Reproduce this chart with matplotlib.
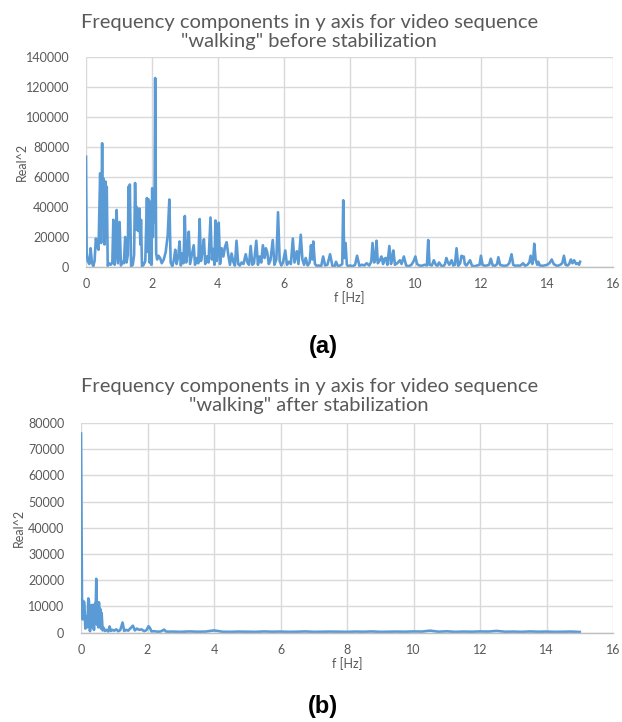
import numpy as np
import matplotlib
matplotlib.use("Agg")
import matplotlib.pyplot as plt

# --- (a) before stabilization: frequency [Hz] and Real^2 ---
freq_a = [0.00, 0.02, 0.05, 0.10, 0.14, 0.18, 0.22, 0.26, 0.30, 0.34, 0.38, 0.43, 0.46, 0.49, 0.51, 0.53, 0.56, 0.59, 0.61, 0.63, 0.66,
          0.70, 0.75, 0.80, 0.83, 0.87, 0.90, 0.93, 0.97, 1.02, 1.06, 1.10, 1.15, 1.19, 1.23, 1.27, 1.29, 1.31, 1.33,
          1.37, 1.42, 1.46, 1.49, 1.52, 1.54, 1.58, 1.62, 1.65, 1.67, 1.70, 1.75, 1.80, 1.85, 1.88, 1.90, 1.93, 1.95, 1.98, 2.01, 2.03, 2.05,
          2.08, 2.10, 2.13, 2.16, 2.20, 2.25, 2.30, 2.36, 2.42, 2.48, 2.53, 2.57, 2.62, 2.67, 2.71, 2.75, 2.80, 2.84, 2.88, 2.92, 2.96, 3.00,
          3.04, 3.08, 3.12, 3.16, 3.22, 3.27, 3.31, 3.36, 3.41, 3.45, 3.49, 3.54, 3.58, 3.62, 3.67, 3.72, 3.78, 3.82, 3.86, 3.90, 3.93, 3.97, 4.00, 4.03,
          4.07, 4.12, 4.17, 4.22, 4.27, 4.32, 4.37, 4.42, 4.47, 4.52, 4.57, 4.62, 4.67, 4.72, 4.78, 4.85, 4.90, 4.95, 5.00, 5.05,
          5.10, 5.17, 5.22, 5.27, 5.32, 5.37, 5.42, 5.46, 5.50, 5.55, 5.60, 5.67, 5.72, 5.78, 5.83, 5.88, 5.93, 5.98, 6.05,
          6.10, 6.16, 6.22, 6.28, 6.33, 6.40, 6.45, 6.52, 6.57, 6.62, 6.67, 6.73, 6.79, 6.83, 6.87, 6.90, 6.95, 7.00,
          7.07, 7.14, 7.20, 7.26, 7.33, 7.41, 7.48, 7.55, 7.59, 7.65, 7.72, 7.78, 7.81, 7.84, 7.88, 7.92, 7.96, 8.02,
          8.10, 8.17, 8.23, 8.30, 8.38, 8.45, 8.52, 8.60, 8.66, 8.70, 8.75, 8.79, 8.82, 8.86, 8.92, 8.97, 9.02,
          9.06, 9.10, 9.15, 9.21, 9.26, 9.30, 9.33, 9.38, 9.45, 9.53, 9.58, 9.65, 9.72, 9.80, 9.88, 9.95, 10.00,
          10.05, 10.12, 10.20, 10.28, 10.35, 10.39, 10.43, 10.50, 10.56, 10.62, 10.67, 10.72, 10.78, 10.85, 10.90, 10.94, 10.98, 11.03,
          11.10, 11.15, 11.20, 11.25, 11.30, 11.36, 11.40, 11.43, 11.47, 11.50, 11.55, 11.60, 11.66, 11.72, 11.80, 11.88, 11.95, 11.99, 12.04,
          12.10, 12.17, 12.24, 12.29, 12.35, 12.42, 12.48, 12.52, 12.57, 12.63, 12.70, 12.78, 12.85, 12.92, 12.97, 13.03,
          13.10, 13.17, 13.22, 13.27, 13.33, 13.40, 13.46, 13.50, 13.55, 13.58, 13.61, 13.65, 13.70, 13.73, 13.78, 13.85, 13.92, 14.00, 14.07,
          14.14, 14.20, 14.27, 14.33, 14.40, 14.46, 14.51, 14.56, 14.62, 14.67, 14.72, 14.77, 14.82, 14.88, 14.93, 14.97, 15.00]
power_a = [73500, 9000, 4000, 2000, 12500, 3000, 500, 4000, 19000, 14000, 11500, 62500, 16000, 82500, 30000, 59000, 15000, 57000, 20000, 53500, 800,
           2500, 1500, 3000, 31500, 1500, 9000, 38000, 2500, 30000, 1000, 3500, 2500, 20000, 3000, 8000, 53500, 20000, 55000,
           500, 1500, 8000, 56000, 25000, 40000, 24000, 39000, 15000, 31500, 500, 1500, 4000, 46000, 10000, 45000, 3000, 43500, 1500, 52500, 20000, 51500,
           30000, 126000, 9000, 5000, 7500, 6000, 2500, 5000, 10000, 21000, 45000, 3000, 500, 5000, 11500, 2000, 7000, 17000, 1000, 9000, 2500, 34000,
           3000, 10000, 23500, 2000, 9000, 14500, 1500, 6000, 2500, 32000, 4000, 11000, 18500, 2000, 7000, 3000, 33000, 5000, 12000, 1500, 31000, 4000, 12000, 29500,
           2000, 12500, 7000, 13500, 16500, 8000, 1500, 9000, 3500, 1000, 17500, 2000, 1000, 3000, 2000, 8500, 3000, 1500, 14000, 1500,
           2500, 17500, 1500, 7000, 3000, 14500, 6000, 12500, 10000, 2000, 4500, 18000, 1500, 5000, 36500, 4000, 1000, 3000, 11000,
           1500, 3500, 2000, 19000, 3000, 10500, 2000, 21500, 5000, 1500, 6000, 1000, 3000, 14500, 5000, 17000, 2000, 800,
           1000, 500, 7000, 1000, 1500, 8500, 800, 500, 3500, 600, 1000, 2000, 44500, 6000, 16000, 1500, 500, 1000,
           500, 1500, 7500, 800, 1500, 1000, 2500, 1000, 3500, 16000, 3000, 5000, 17500, 2500, 4500, 7000, 2000,
           5500, 6000, 1500, 14000, 2000, 6000, 11000, 1500, 2500, 4500, 2000, 7000, 1000, 500, 1500, 4000, 7000,
           2000, 1000, 800, 1500, 1000, 18000, 1500, 1000, 4500, 1500, 800, 3000, 1000, 500, 2000, 6000, 3500, 1500,
           4500, 1000, 1500, 12500, 800, 2500, 7500, 6500, 7000, 2000, 1000, 2500, 4500, 800, 500, 1000, 1500, 7500, 1500,
           800, 1000, 1500, 5500, 1000, 800, 2000, 6500, 1500, 1000, 800, 1000, 2500, 8500, 1500, 800,
           1000, 800, 1500, 2500, 800, 1500, 3000, 7500, 2000, 6000, 15500, 5000, 1500, 3500, 1000, 800, 1000, 1500, 2500,
           5000, 2000, 1000, 800, 1500, 2500, 7500, 1500, 1000, 2000, 5000, 2500, 4500, 2000, 2500, 1500, 3500]

# --- (b) after stabilization ---
freq_b = [0.00, 0.03, 0.05, 0.07, 0.10, 0.13, 0.16, 0.19, 0.22, 0.24, 0.27, 0.29, 0.32, 0.34, 0.36, 0.39, 0.42, 0.44, 0.46, 0.48,
          0.50, 0.52, 0.54, 0.56, 0.58, 0.60, 0.62, 0.65, 0.68, 0.72, 0.77, 0.82, 0.86, 0.90, 0.95, 1.00, 1.06, 1.12, 1.18, 1.25,
          1.30, 1.36, 1.42, 1.48, 1.56, 1.62, 1.68, 1.75, 1.82, 1.90, 1.97, 2.03, 2.07, 2.12, 2.20, 2.30, 2.40, 2.50, 2.55, 2.62,
          2.75, 3.00, 3.25, 3.50, 3.75, 4.00, 4.25, 4.50, 4.75, 5.00, 5.25, 5.50, 5.75, 6.00, 6.25, 6.50, 6.75, 7.00, 7.25, 7.50,
          7.75, 8.00, 8.25, 8.50, 8.75, 9.00, 9.25, 9.50, 9.75, 10.00, 10.25, 10.50, 10.75, 11.00, 11.25, 11.50, 11.75, 12.00, 12.25, 12.50,
          12.75, 13.00, 13.25, 13.50, 13.75, 14.00, 14.25, 14.50, 14.75, 15.00]
power_b = [76000, 11500, 5000, 12000, 11500, 1500, 6000, 2000, 13000, 12000, 500, 6000, 10500, 2000, 10500, 1000, 11000, 8000, 20500, 3000,
           11500, 2000, 11500, 4000, 9000, 1500, 7500, 800, 1800, 600, 1000, 400, 2300, 600, 1000, 700, 1200, 500, 900, 3800,
           600, 1000, 700, 1500, 2600, 800, 1500, 1000, 1200, 500, 900, 2400, 1800, 400, 500, 300, 400, 1100, 400, 300,
           350, 250, 400, 300, 350, 800, 300, 250, 350, 300, 250, 400, 300, 350, 250, 300, 400, 250, 300, 350,
           300, 250, 350, 300, 400, 250, 300, 350, 300, 400, 350, 700, 300, 450, 250, 350, 300, 400, 350, 600,
           300, 350, 250, 400, 300, 350, 250, 300, 350, 200]

blue = '#5b9bd5'
grey_txt = '#595959'
grid_c = '#d9d9d9'

plt.rcParams['font.family'] = ['Lato', 'DejaVu Sans']

fig = plt.figure(figsize=(6.22, 7.22), dpi=100)
ax_a = fig.add_axes([86/622, 1-267/722, (613-86)/622, (267-57)/722])
ax_b = fig.add_axes([81/622, 1-632.5/722, (613-81)/622, (632.5-423)/722])


def style(ax, ymax, ystep):
    ax.set_xlim(0, 16)
    ax.set_ylim(0, ymax)
    ax.set_xticks(np.arange(0, 17, 2))
    ax.set_yticks(np.arange(0, ymax + 1, ystep))
    ax.grid(True, color=grid_c, linewidth=1.0)
    ax.set_axisbelow(True)
    for s in ['top', 'right', 'left']:
        ax.spines[s].set_visible(False)
    ax.spines['bottom'].set_color('#bfbfbf')
    ax.spines['bottom'].set_linewidth(1.0)
    ax.tick_params(length=0, labelsize=9, colors=grey_txt, pad=12)
    ax.tick_params(axis='x', pad=8)
    ax.set_xlabel("f [Hz]", fontsize=9, color=grey_txt, labelpad=1)
    ax.set_ylabel("Real^2", fontsize=9, color=grey_txt)


ax_a.plot(freq_a, power_a, color=blue, linewidth=1.9, solid_joinstyle='round')
style(ax_a, 140000, 20000)
ax_a.yaxis.set_label_coords(-0.11, 0.5)

ax_b.plot(freq_b, power_b, color=blue, linewidth=1.9, solid_joinstyle='round')
style(ax_b, 80000, 10000)
ax_b.yaxis.set_label_coords(-0.105, 0.5)

fig.text(0.497, 1-32/722, 'Frequency components in y axis for video sequence\n"walking" before stabilization',
         ha='center', va='center', fontsize=14.5, color=grey_txt, linespacing=1.2)
fig.text(0.497, 1-396/722, 'Frequency components in y axis for video sequence\n"walking" after stabilization',
         ha='center', va='center', fontsize=14.5, color=grey_txt, linespacing=1.2)

fig.text(323/622, 1-346/722, '(a)', ha='center', va='center', fontsize=17,
         fontweight='bold', family='Liberation Sans', color='black')
fig.text(323/622, 1-707/722, '(b)', ha='center', va='center', fontsize=17,
         fontweight='bold', family='Liberation Sans', color='black')

fig.savefig('out.png', dpi=100)
